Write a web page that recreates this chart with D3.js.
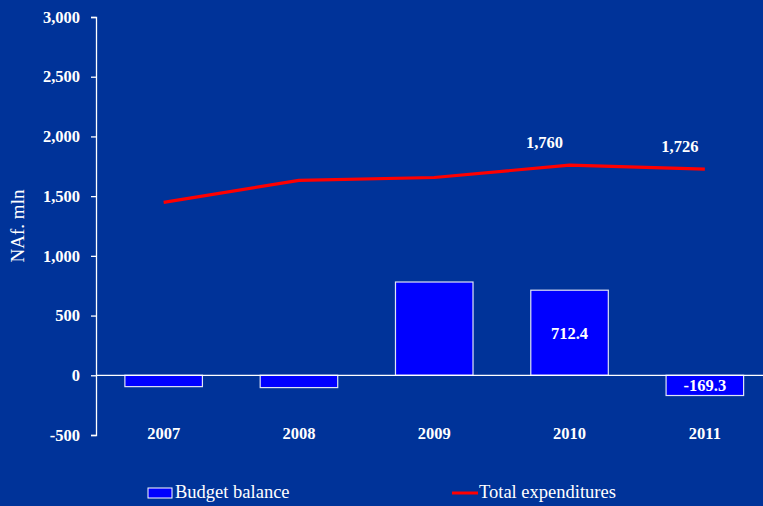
<!DOCTYPE html>
<html>
<head>
<meta charset="utf-8">
<script src="https://cdn.jsdelivr.net/npm/d3@7"></script>
<style>
  html, body { margin: 0; padding: 0; background: #003399; }
  svg { display: block; }
  text { font-family: "Liberation Serif", "Times New Roman", serif; fill: #ffffff; }
</style>
</head>
<body>
<svg id="chart" width="763" height="506"></svg>
<script>
// Fiscal data, NAf. mln
const years = ["2007", "2008", "2009", "2010", "2011"];
const budgetBalance = [-95, -103, 781, 712.4, -169.3];
const totalExpenditures = [1448, 1632, 1656, 1760, 1726];
const yTicks = [-500, 0, 500, 1000, 1500, 2000, 2500, 3000];
// Only the last two years carry value labels
const balanceLabels = [null, null, null, "712.4", "-169.3"];
const expenditureLabels = [null, null, null, "1,760", "1,726"];

const svg = d3.select("#chart");
const W = 763, H = 506;
const plot = { left: 96, right: 772.5, top: 17, bottom: 435 };

svg.append("rect").attr("width", W).attr("height", H).attr("fill", "#003399");

const x = d3.scaleBand().domain(years).range([plot.left, plot.right])
  .paddingInner(0.427).paddingOuter(0.2135);
const y = d3.scaleLinear().domain([-500, 3000]).range([plot.bottom, plot.top]);

// Thousands separator with a plain hyphen for negatives
const fmt = d => (d < 0 ? "-" : "") + d3.format(",")(Math.abs(d));

// Y axis
const yAxis = d3.axisLeft(y).tickValues(yTicks).tickSize(5).tickPadding(11)
  .tickFormat(fmt);
const gy = svg.append("g").attr("transform", `translate(${plot.left},0)`).call(yAxis);
gy.select(".domain").attr("stroke", "#ffffff").attr("stroke-width", 1.3);
gy.selectAll(".tick line").attr("stroke", "#ffffff").attr("stroke-width", 1.3);
gy.selectAll(".tick text")
  .attr("fill", "#ffffff").attr("font-size", 16.5).attr("font-weight", "bold")
  .attr("font-family", "Liberation Serif, serif");

// Axis title
svg.append("text")
  .attr("transform", `translate(24,226) rotate(-90)`)
  .attr("text-anchor", "middle")
  .attr("font-size", 19)
  .text("NAf. mln");

// Budget balance bars
svg.append("g").selectAll("rect").data(years).join("rect")
  .attr("x", d => x(d))
  .attr("width", x.bandwidth())
  .attr("y", (d, i) => y(Math.max(0, budgetBalance[i])))
  .attr("height", (d, i) => Math.abs(y(budgetBalance[i]) - y(0)))
  .attr("fill", "#0000ff")
  .attr("stroke", "#dfe4f5").attr("stroke-width", 1.2);

// Zero line across the plot
svg.append("line")
  .attr("x1", plot.left).attr("x2", W)
  .attr("y1", y(0)).attr("y2", y(0))
  .attr("stroke", "#ffffff").attr("stroke-width", 1.3);

// Category labels
svg.append("g").selectAll("text").data(years).join("text")
  .attr("x", d => x(d) + x.bandwidth() / 2)
  .attr("y", 439)
  .attr("text-anchor", "middle")
  .attr("font-size", 16.5).attr("font-weight", "bold")
  .text(d => d);

// Total expenditures line
const cx = d => x(d) + x.bandwidth() / 2;
const line = d3.line().x((d, i) => cx(years[i])).y(d => y(d));
svg.append("path").datum(totalExpenditures)
  .attr("d", line)
  .attr("fill", "none")
  .attr("stroke", "#ff0000").attr("stroke-width", 3.2)
  .attr("stroke-linejoin", "round");

// Value labels on the bars
svg.append("g").selectAll("text").data(years).join("text")
  .filter((d, i) => balanceLabels[i] !== null)
  .attr("x", d => cx(d))
  .attr("y", d => {
    const i = years.indexOf(d);
    return (y(budgetBalance[i]) + y(0)) / 2 + 6;
  })
  .attr("text-anchor", "middle")
  .attr("font-size", 16.5).attr("font-weight", "bold")
  .text(d => balanceLabels[years.indexOf(d)]);

// Value labels above the line
svg.append("g").selectAll("text").data(years).join("text")
  .filter((d, i) => expenditureLabels[i] !== null)
  .attr("x", d => cx(d) - 25)
  .attr("y", d => y(totalExpenditures[years.indexOf(d)]) - 17)
  .attr("text-anchor", "middle")
  .attr("font-size", 16.5).attr("font-weight", "bold")
  .text(d => expenditureLabels[years.indexOf(d)]);

// Legend
const lg = svg.append("g");
lg.append("rect").attr("x", 148).attr("y", 488).attr("width", 24).attr("height", 10)
  .attr("fill", "#0000ff").attr("stroke", "#ffffff").attr("stroke-width", 1);
lg.append("text").attr("x", 175).attr("y", 498).attr("font-size", 18.5).text("Budget balance");
lg.append("line").attr("x1", 452).attr("x2", 478).attr("y1", 493).attr("y2", 493)
  .attr("stroke", "#ff0000").attr("stroke-width", 3);
lg.append("text").attr("x", 479).attr("y", 498).attr("font-size", 18.5).text("Total expenditures");
</script>
</body>
</html>
